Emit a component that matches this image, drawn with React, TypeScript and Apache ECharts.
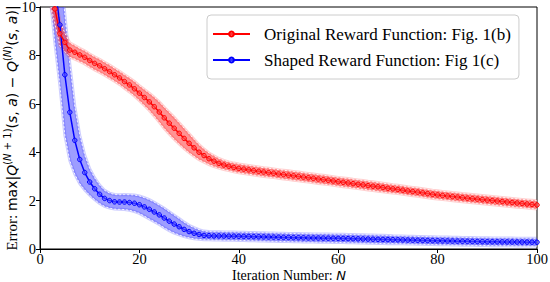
import React, { useEffect, useRef } from 'react';
import * as echarts from 'echarts';

// Iteration numbers N
const iterations = [
  2, 3, 4, 5, 6, 7, 8, 9, 10,
  11, 12, 13, 14, 15, 16, 17, 18, 19, 20,
  21, 22, 23, 24, 25, 26, 27, 28, 29, 30,
  31, 32, 33, 34, 35, 36, 37, 38, 39, 40,
  41, 42, 43, 44, 45, 46, 47, 48, 49, 50,
  51, 52, 53, 54, 55, 56, 57, 58, 59, 60,
  61, 62, 63, 64, 65, 66, 67, 68, 69, 70,
  71, 72, 73, 74, 75, 76, 77, 78, 79, 80,
  81, 82, 83, 84, 85, 86, 87, 88, 89, 90,
  91, 92, 93, 94, 95, 96, 97, 98, 99, 100,
];

// Original Reward Function: Fig. 1(b)
const originalMean = [
  11.0, 9.92, 8.90, 8.54, 8.22, 8.13, 8.02, 7.92, 7.79,
  7.67, 7.57, 7.45, 7.33, 7.20, 7.07, 6.92, 6.78, 6.62, 6.44,
  6.26, 6.08, 5.88, 5.66, 5.42, 5.20, 4.99, 4.78, 4.57, 4.37,
  4.18, 4.00, 3.86, 3.73, 3.63, 3.54, 3.47, 3.42, 3.37, 3.33,
  3.30, 3.27, 3.24, 3.21, 3.18, 3.155, 3.13, 3.10, 3.075, 3.05,
  3.025, 3.00, 2.97, 2.945, 2.92, 2.89, 2.865, 2.84, 2.81, 2.78,
  2.755, 2.73, 2.70, 2.675, 2.65, 2.62, 2.595, 2.57, 2.54, 2.51,
  2.485, 2.46, 2.43, 2.40, 2.375, 2.35, 2.32, 2.29, 2.26, 2.235,
  2.21, 2.19, 2.165, 2.145, 2.12, 2.10, 2.08, 2.06, 2.04, 2.02,
  2.00, 1.98, 1.96, 1.94, 1.92, 1.90, 1.88, 1.86, 1.84, 1.82,
];
const originalStd = [
  0.8, 0.6, 0.5, 0.38, 0.3, 0.28, 0.27, 0.27, 0.27,
  0.27, 0.27, 0.27, 0.27, 0.27, 0.27, 0.28, 0.29, 0.30, 0.31,
  0.33, 0.36, 0.39, 0.42, 0.44, 0.45, 0.45, 0.44, 0.42, 0.39,
  0.35, 0.31, 0.27, 0.24, 0.22, 0.20, 0.19, 0.18, 0.18, 0.18,
  0.18, 0.18, 0.18, 0.18, 0.18, 0.18, 0.18, 0.18, 0.18, 0.18,
  0.18, 0.18, 0.18, 0.18, 0.18, 0.18, 0.18, 0.18, 0.18, 0.18,
  0.18, 0.18, 0.18, 0.18, 0.18, 0.18, 0.18, 0.18, 0.18, 0.18,
  0.17, 0.17, 0.17, 0.17, 0.17, 0.17, 0.17, 0.17, 0.17, 0.17,
  0.17, 0.17, 0.17, 0.17, 0.17, 0.17, 0.17, 0.17, 0.17, 0.17,
  0.17, 0.17, 0.17, 0.17, 0.17, 0.17, 0.17, 0.17, 0.17, 0.17,
];

// Shaped Reward Function: Fig 1(c)
const shapedMean = [
  13.0, 10.9, 9.26, 7.20, 5.65, 4.49, 3.70, 3.16, 2.77,
  2.49, 2.26, 2.09, 2.00, 1.95, 1.94, 1.94, 1.92, 1.89, 1.83,
  1.74, 1.64, 1.53, 1.41, 1.28, 1.15, 1.03, 0.92, 0.81, 0.72,
  0.65, 0.60, 0.56, 0.55, 0.54, 0.54, 0.535, 0.53, 0.53, 0.525,
  0.52, 0.515, 0.51, 0.505, 0.50, 0.495, 0.49, 0.485, 0.48, 0.475,
  0.47, 0.466, 0.462, 0.458, 0.455, 0.452, 0.449, 0.446, 0.443, 0.44,
  0.435, 0.43, 0.425, 0.42, 0.415, 0.41, 0.405, 0.40, 0.395, 0.39,
  0.385, 0.38, 0.375, 0.37, 0.365, 0.36, 0.355, 0.35, 0.345, 0.34,
  0.336, 0.332, 0.328, 0.324, 0.32, 0.316, 0.312, 0.308, 0.304, 0.30,
  0.298, 0.296, 0.294, 0.292, 0.29, 0.288, 0.286, 0.284, 0.282, 0.28,
];
const shapedStd = [
  2.5, 2.4, 2.5, 2.5, 2.0, 1.4, 1.0, 0.72, 0.55,
  0.45, 0.38, 0.33, 0.31, 0.30, 0.30, 0.31, 0.32, 0.34, 0.36,
  0.38, 0.40, 0.40, 0.40, 0.40, 0.39, 0.37, 0.34, 0.30, 0.26,
  0.23, 0.20, 0.18, 0.17, 0.17, 0.17, 0.17, 0.17, 0.17, 0.17,
  0.17, 0.17, 0.17, 0.17, 0.17, 0.17, 0.17, 0.17, 0.17, 0.17,
  0.17, 0.17, 0.17, 0.17, 0.17, 0.17, 0.17, 0.17, 0.17, 0.17,
  0.17, 0.17, 0.17, 0.17, 0.17, 0.17, 0.17, 0.17, 0.17, 0.17,
  0.16, 0.16, 0.16, 0.16, 0.16, 0.16, 0.16, 0.16, 0.16, 0.16,
  0.16, 0.16, 0.16, 0.16, 0.16, 0.16, 0.16, 0.16, 0.16, 0.16,
  0.16, 0.16, 0.16, 0.16, 0.16, 0.16, 0.16, 0.16, 0.16, 0.16,
];

const seriesNames = ['Original Reward Function: Fig. 1(b)', 'Shaped Reward Function: Fig 1(c)'];
const xRange = [0, 100];
const yRange = [0, 10];

const SERIF = 'Liberation Serif';
const SANS = 'DejaVu Sans';

function pairs(vals: number[]) {
  return iterations.map((x, i) => [x, vals[i]]);
}

function bandSeries(mean: number[], sd: number[], fill: string, outer: string) {
  return {
    type: 'custom',
    silent: true,
    z: 1,
    data: [[iterations[0], mean[0]]],
    renderItem: (params: any, api: any) => {
      const up = iterations.map((x, i) => api.coord([x, mean[i] + sd[i]]));
      const lo = iterations.map((x, i) => api.coord([x, mean[i] - sd[i]]));
      const cs = params.coordSys;
      return {
        type: 'group',
        clipPath: { type: 'rect', shape: { x: cs.x, y: cs.y, width: cs.width, height: cs.height } },
        children: [
          {
            type: 'polygon',
            shape: { points: up.concat(lo.slice().reverse()) },
            style: { fill, stroke: outer, lineWidth: 3 },
          },
          {
            type: 'polyline',
            shape: { points: up },
            style: { fill: null, stroke: 'rgba(255,255,255,0.85)', lineWidth: 1, lineDash: [2, 2] },
          },
          {
            type: 'polyline',
            shape: { points: lo },
            style: { fill: null, stroke: 'rgba(255,255,255,0.85)', lineWidth: 1, lineDash: [2, 2] },
          },
        ],
      };
    },
  };
}

function mainSeries(name: string, mean: number[], color: string, fill: string) {
  return {
    type: 'line',
    name,
    data: pairs(mean),
    symbol: 'circle',
    symbolSize: 4.5,
    lineStyle: { color, width: 1.5 },
    itemStyle: { color: fill, borderColor: color, borderWidth: 1 },
    z: 5,
  };
}

export default function App() {
  const ref = useRef<HTMLDivElement>(null);
  useEffect(() => {
    const chart = echarts.init(ref.current!, null, { renderer: 'svg' });
    const option: any = {
      animation: false,
      backgroundColor: '#ffffff',
      grid: {
        left: 40, right: 13, top: 7, bottom: 33,
        show: true, borderColor: '#000', borderWidth: 1,
        outerBoundsMode: 'none',
        containLabel: false,
      },
      xAxis: {
        type: 'value',
        min: xRange[0], max: xRange[1], interval: 20,
        splitLine: { show: false },
        axisLine: { lineStyle: { color: '#000', width: 1 } },
        axisTick: { show: true, length: 4, lineStyle: { color: '#000' } },
        axisLabel: { color: '#000', fontFamily: SERIF, fontSize: 14.5, margin: 3, lineHeight: 14 },
      },
      yAxis: {
        type: 'value',
        min: yRange[0], max: yRange[1], interval: 2,
        splitLine: { show: false },
        axisLine: { show: true, lineStyle: { color: '#000', width: 1 } },
        axisTick: { show: true, length: 4, lineStyle: { color: '#000' } },
        axisLabel: { color: '#000', fontFamily: SERIF, fontSize: 14.5, margin: 4 },
      },
      legend: {
        data: seriesNames,
        orient: 'vertical',
        left: 207,
        top: 15,
        padding: [9, 8, 9, 5],
        itemGap: 6,
        itemWidth: 37,
        itemHeight: 6,
        backgroundColor: '#fff',
        borderColor: '#cccccc',
        borderWidth: 1,
        borderRadius: 4,
        textStyle: { fontFamily: SERIF, fontSize: 17, color: '#000', lineHeight: 20, padding: [0, 0, 0, 9] },
      },
      graphic: [
        {
          type: 'text',
          x: 289,
          y: 275,
          style: {
            text: '{a|Iteration Number: }{b|N}',
            align: 'center',
            verticalAlign: 'middle',
            rich: {
              a: { fontFamily: SERIF, fontSize: 14, fill: '#000', lineHeight: 13 },
              b: { fontFamily: SANS, fontStyle: 'italic', fontSize: 13, fill: '#000', lineHeight: 13 },
            },
          },
        },
        {
          type: 'text',
          x: 12,
          y: 128,
          rotation: Math.PI / 2,
          style: {
            text: '{s|Error: }{m|max|}{i|Q}{sup|(}{supi|N}{sup| + 1)}{m|(}{i|s}{m|, }{i|a}{m|) − }{i|Q}{sup|(}{supi|N}{sup|)}{m|(}{i|s}{m|, }{i|a}{m|)|}',
            align: 'center',
            verticalAlign: 'middle',
            rich: {
              s: { fontFamily: SERIF, fontSize: 15, fill: '#000', lineHeight: 20 },
              m: { fontFamily: SANS, fontSize: 14, fill: '#000', lineHeight: 20 },
              i: { fontFamily: SANS, fontStyle: 'italic', fontSize: 14, fill: '#000', lineHeight: 20 },
              sup: { fontFamily: SANS, fontSize: 10, fill: '#000', verticalAlign: 'top', lineHeight: 12 },
              supi: { fontFamily: SANS, fontStyle: 'italic', fontSize: 10, fill: '#000', verticalAlign: 'top', lineHeight: 12 },
            },
          },
        },
      ],
      series: [
        bandSeries(shapedMean, shapedStd, 'rgba(60,60,255,0.5)', 'rgba(60,60,255,0.25)'),
        bandSeries(originalMean, originalStd, 'rgba(255,40,40,0.5)', 'rgba(255,40,40,0.22)'),
        mainSeries(seriesNames[1], shapedMean, '#0000ff', 'rgba(90,90,255,0.6)'),
        mainSeries(seriesNames[0], originalMean, '#ff0000', 'rgba(255,90,90,0.6)'),
      ],
    };
    chart.setOption(option);
    return () => chart.dispose();
  }, []);
  return <div ref={ref} style={{ position: 'fixed', left: 0, top: 0, width: 550, height: 282 }} />;
}
